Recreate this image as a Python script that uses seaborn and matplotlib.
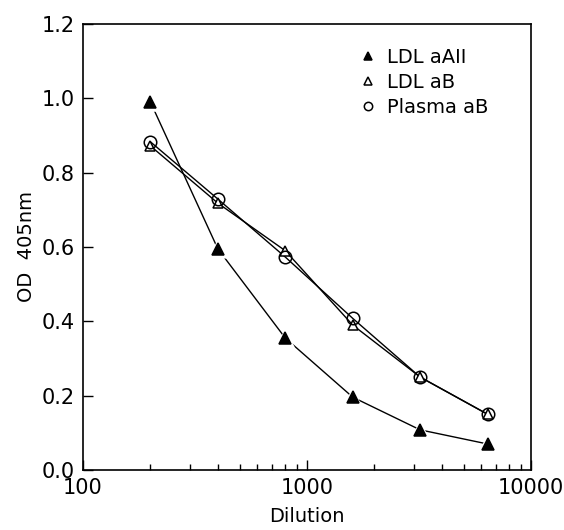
import numpy as np
import matplotlib
matplotlib.use("Agg")
import matplotlib.pyplot as plt
import seaborn as sns
import pandas as pd
from matplotlib.ticker import FixedLocator, LogLocator, NullFormatter

# data
dilution = [200, 400, 800, 1600, 3200, 6400]
ldl_aaii = [0.99, 0.595, 0.355, 0.196, 0.108, 0.07]
ldl_ab = [0.872, 0.718, 0.59, 0.39, 0.25, 0.15]
plasma_ab = [0.883, 0.729, 0.573, 0.408, 0.25, 0.15]

series = ['LDL aAII', 'LDL aB', 'Plasma aB']
values = [ldl_aaii, ldl_ab, plasma_ab]
markers = ['^', '^', 'o']
faces = ['black', 'white', 'none']
msizes = [8, 7, 9]

sns.set_style('white')
plt.rcParams['font.family'] = ['DejaVu Sans']
plt.rcParams['text.color'] = 'black'
plt.rcParams['axes.labelcolor'] = 'black'
plt.rcParams['xtick.color'] = 'black'
plt.rcParams['ytick.color'] = 'black'

fig = plt.figure(figsize=(5.64, 5.30), dpi=100)
ax = fig.add_axes([83 / 564, 1 - 470 / 530, 448 / 564, 446 / 530])

# lines first, then a small white halo under the filled markers so the line stops short
for name, vals in zip(series, values):
    df = pd.DataFrame({'Dilution': dilution, 'OD': vals})
    sns.lineplot(data=df, x='Dilution', y='OD', ax=ax, color='black',
                 linewidth=1.0, legend=False)
df = pd.DataFrame({'Dilution': dilution, 'OD': ldl_aaii})
sns.scatterplot(data=df, x='Dilution', y='OD', ax=ax, marker='^',
                s=(msizes[0] + 6) ** 2, color='white', edgecolor='none',
                legend=False, zorder=3)
for name, vals, m, fc, ms in zip(series, values, markers, faces, msizes):
    df = pd.DataFrame({'Dilution': dilution, 'OD': vals})
    sns.lineplot(data=df, x='Dilution', y='OD', ax=ax, color='black',
                 linestyle='None', marker=m, markersize=ms, markerfacecolor=fc,
                 markeredgecolor='black', markeredgewidth=1.1, label=name,
                 zorder=4)

ax.set_xscale('log')
ax.set_xlim(100, 10000)
ax.set_ylim(0, 1.2)
ax.set_yticks([0.0, 0.2, 0.4, 0.6, 0.8, 1.0, 1.2])
ax.set_yticklabels(['0.0', '0.2', '0.4', '0.6', '0.8', '1.0', '1.2'])
ax.xaxis.set_major_locator(FixedLocator([100, 1000, 10000]))
ax.xaxis.set_minor_locator(LogLocator(base=10, subs=np.arange(2, 10)))
ax.xaxis.set_minor_formatter(NullFormatter())
ax.set_xticklabels(['100', '1000', '10000'])

ax.tick_params(axis='both', which='major', direction='in', length=7, width=1,
               labelsize=15, bottom=True, left=True, top=False, right=False, pad=6)
ax.tick_params(axis='x', which='minor', direction='in', length=4, width=1,
               bottom=True, top=False)
for s in ax.spines.values():
    s.set_color('black')
    s.set_linewidth(1.2)

ax.set_xlabel('Dilution', fontsize=14, labelpad=6)
ax.set_ylabel('OD  405nm', fontsize=14, labelpad=4)

leg = ax.legend(loc='upper right', frameon=False, fontsize=14, handlelength=0.8,
                handletextpad=0.6, labelspacing=0.3, bbox_to_anchor=(0.945, 0.985))
for h in leg.legend_handles:
    h.set_linestyle('None')
    h.set_markersize(6)

fig.savefig('out.png', dpi=100)
